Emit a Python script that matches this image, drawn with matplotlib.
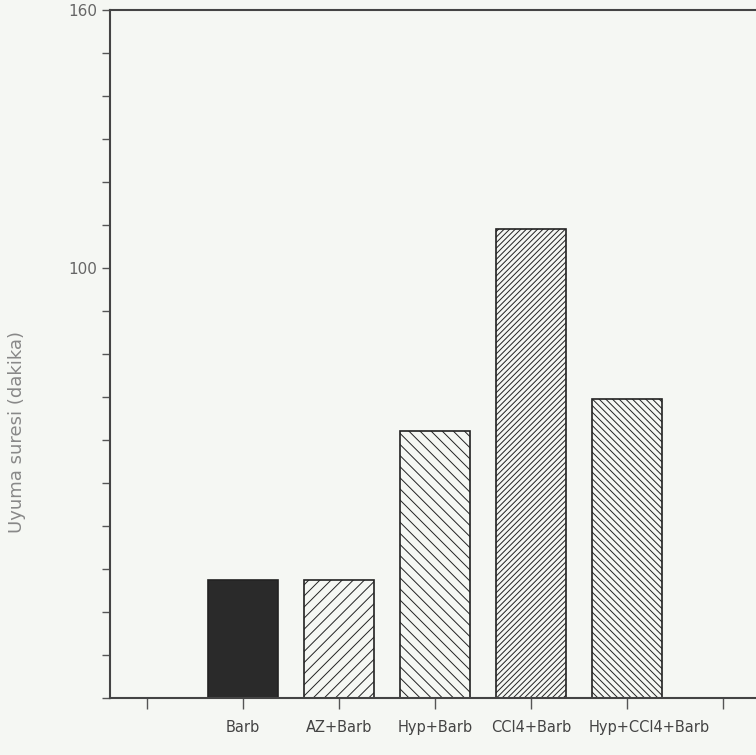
import matplotlib
matplotlib.use("Agg")
import matplotlib.pyplot as plt
import matplotlib.transforms as mtransforms

categories = ["Barb", "AZ+Barb", "Hyp+Barb", "CCl4+Barb", "Hyp+CCl4+Barb"]
values = [27.5, 27.5, 62, 109, 69.5]
hatches = ["", "///", "\\\\\\", "//////", "\\\\\\\\\\"]
facecolors = ["#2a2a2a", "none", "none", "none", "none"]
ytick_major = [100, 160]
ytick_minor = list(range(0, 161, 10))

plt.rcParams['hatch.linewidth'] = 0.7
plt.rcParams['font.family'] = ['DejaVu Sans']

bg = "#f5f7f3"
fig = plt.figure(figsize=(7.56, 7.55), dpi=100, facecolor=bg)
ax = fig.add_axes([110/756, 57/755, 646/756, 688/755])
ax.set_facecolor(bg)

pos = list(range(1, len(categories) + 1))
for p, v, h, fc in zip(pos, values, hatches, facecolors):
    ax.bar(p, v, width=0.73, facecolor=fc, edgecolor="#222222", hatch=h,
           linewidth=1.2, zorder=2)

ax.set_ylim(0, 160)
ax.set_xlim(-0.385, 6.34)
ax.set_xticks(list(range(0, 7)))
ax.set_xticklabels([""] + categories + [""])
ax.set_yticks(ytick_major)
ax.set_yticks(ytick_minor, minor=True)
ax.set_yticklabels([str(t) for t in ytick_major])

for s in ["left", "top", "bottom"]:
    ax.spines[s].set_color("#444444")
    ax.spines[s].set_linewidth(1.5)
ax.spines["right"].set_visible(False)

ax.tick_params(axis="y", which="both", direction="out", length=6, width=1,
               color="#555555", labelsize=11, labelcolor="#666666", pad=3)
ax.tick_params(axis="x", direction="out", length=8, width=1, color="#555555",
               labelsize=10.5, labelcolor="#444444", pad=8)

# the last category label sits a little to the right of its tick
last = ax.get_xticklabels()[5]
last.set_transform(last.get_transform() +
                   mtransforms.ScaledTranslation(22/100, 0, fig.dpi_scale_trans))

ax.set_ylabel("Uyuma suresi (dakika)", fontsize=13, color="#888888")
ax.yaxis.set_label_coords(-0.13, 0.387)

fig.savefig("out.png", dpi=100, facecolor=bg)
